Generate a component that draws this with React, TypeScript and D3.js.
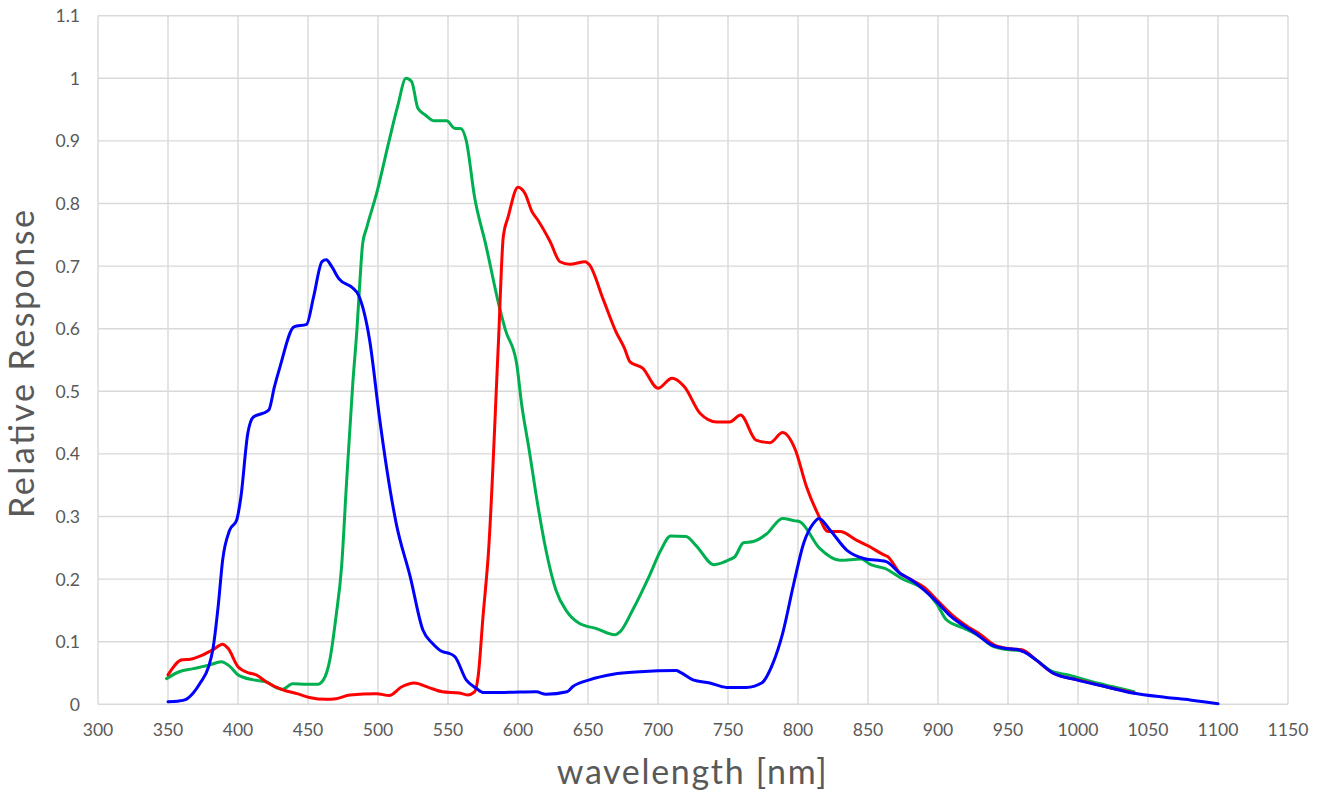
import React from "react";
import * as d3 from "d3";

const xTicks = [300, 350, 400, 450, 500, 550, 600, 650, 700, 750, 800, 850, 900, 950, 1000, 1050, 1100, 1150];
const yTicks = [0, 0.1, 0.2, 0.3, 0.4, 0.5, 0.6, 0.7, 0.8, 0.9, 1, 1.1];
const yTickLabels = ["0", "0.1", "0.2", "0.3", "0.4", "0.5", "0.6", "0.7", "0.8", "0.9", "1", "1.1"];

const blueWl = [350, 357, 363, 368, 373, 379, 382, 386, 389, 394, 399, 402, 407, 411, 418, 422, 426, 430, 440, 449, 454, 460, 463, 467, 472, 482, 486, 494, 501, 506, 513, 523, 532, 539, 546, 550, 555, 563, 570, 575, 590, 613, 620, 635, 639, 651, 668, 687, 713, 716, 725, 737, 749, 763, 774, 782, 789, 797, 804, 811, 815, 823, 835, 847, 863, 873, 880, 899, 908, 927, 939, 949, 956, 961, 970, 982, 999, 1020, 1039, 1063, 1080, 1100];
const blueVal = [0.004, 0.005, 0.008, 0.018, 0.034, 0.06, 0.087, 0.16, 0.23, 0.278, 0.294, 0.33, 0.433, 0.459, 0.465, 0.47, 0.507, 0.539, 0.603, 0.607, 0.651, 0.707, 0.71, 0.699, 0.68, 0.665, 0.654, 0.582, 0.459, 0.38, 0.289, 0.204, 0.119, 0.097, 0.084, 0.082, 0.076, 0.039, 0.026, 0.019, 0.019, 0.02, 0.016, 0.02, 0.028, 0.039, 0.048, 0.052, 0.054, 0.051, 0.039, 0.034, 0.027, 0.027, 0.034, 0.065, 0.113, 0.193, 0.257, 0.289, 0.297, 0.278, 0.246, 0.233, 0.228, 0.209, 0.2, 0.164, 0.143, 0.113, 0.094, 0.089, 0.088, 0.084, 0.071, 0.05, 0.039, 0.028, 0.018, 0.011, 0.007, 0.001];

const redWl = [350, 360, 366, 375, 382, 389, 393, 400, 408, 413, 420, 432, 442, 451, 463, 470, 480, 499, 508, 517, 526, 536, 546, 558, 564, 569, 571.5, 575, 579, 586, 589.5, 593, 600, 605, 610, 614, 623, 630, 637, 648, 651, 661, 670, 676, 680, 689, 700, 710, 719, 730, 742, 751, 759, 770, 780, 789, 798, 806, 814, 821.5, 830, 842, 851, 861, 864, 873, 880, 890, 900, 910, 920, 930, 940, 950, 960, 970, 982, 1000, 1020, 1040];
const redVal = [0.047, 0.071, 0.072, 0.079, 0.087, 0.096, 0.089, 0.06, 0.05, 0.047, 0.036, 0.023, 0.017, 0.011, 0.008, 0.009, 0.015, 0.017, 0.014, 0.028, 0.034, 0.027, 0.02, 0.018, 0.015, 0.02, 0.044, 0.14, 0.246, 0.577, 0.747, 0.779, 0.826, 0.816, 0.787, 0.774, 0.739, 0.707, 0.703, 0.707, 0.702, 0.646, 0.595, 0.569, 0.547, 0.537, 0.505, 0.521, 0.507, 0.465, 0.451, 0.451, 0.462, 0.422, 0.418, 0.434, 0.407, 0.348, 0.305, 0.276, 0.276, 0.262, 0.252, 0.239, 0.236, 0.209, 0.2, 0.187, 0.165, 0.143, 0.126, 0.112, 0.095, 0.089, 0.087, 0.071, 0.05, 0.039, 0.028, 0.018];

const greenWl = [349, 358, 368, 380, 388, 394, 400, 411, 420, 428, 432, 439, 449, 457, 461, 465.6, 470, 474, 477.5, 482, 485, 487, 489, 492, 499, 508, 514, 520, 524, 528.5, 534, 540, 549, 555, 559, 563, 569, 577, 587, 591, 599, 602.5, 608, 614, 620, 627, 635, 644, 656, 669, 673, 682, 694, 702, 709, 720, 727, 740, 751, 755, 761, 768, 777.5, 789, 798, 801, 815.5, 830, 845, 852, 862, 874, 890, 899, 906, 918, 930, 939, 951, 960, 970, 982, 993, 1010, 1025, 1040];
const greenVal = [0.041, 0.052, 0.057, 0.063, 0.068, 0.061, 0.047, 0.039, 0.036, 0.026, 0.024, 0.033, 0.032, 0.032, 0.039, 0.071, 0.14, 0.22, 0.353, 0.513, 0.6, 0.673, 0.735, 0.762, 0.816, 0.901, 0.955, 1.0, 0.995, 0.952, 0.941, 0.932, 0.932, 0.92, 0.92, 0.901, 0.81, 0.734, 0.632, 0.598, 0.545, 0.481, 0.406, 0.32, 0.246, 0.183, 0.148, 0.129, 0.121, 0.111, 0.116, 0.151, 0.206, 0.246, 0.269, 0.268, 0.254, 0.223, 0.231, 0.236, 0.258, 0.26, 0.272, 0.297, 0.293, 0.292, 0.249, 0.23, 0.232, 0.223, 0.217, 0.201, 0.183, 0.161, 0.135, 0.122, 0.108, 0.093, 0.087, 0.086, 0.071, 0.052, 0.047, 0.036, 0.028, 0.02];

const W = 1325;
const H = 800;
const left = 98;
const right = 1288;
const top = 15.7;
const bottom = 704.3;

export default function App() {
  const x = d3.scaleLinear().domain([300, 1150]).range([left, right]);
  const y = d3.scaleLinear().domain([0, 1.1]).range([bottom, top]);
  const line = d3
    .line<[number, number]>()
    .x((d) => x(d[0]))
    .y((d) => y(d[1]))
    .curve(d3.curveMonotoneX);
  const zip = (a: number[], b: number[]) => a.map((v, i) => [v, b[i]] as [number, number]);
  const series = [
    { color: "#00b050", data: zip(greenWl, greenVal) },
    { color: "#ff0000", data: zip(redWl, redVal) },
    { color: "#0000ff", data: zip(blueWl, blueVal) },
  ];
  const font = "Lato, 'Open Sans', sans-serif";
  return (
    <svg width={W} height={H} style={{ position: "absolute", left: 0, top: 0, background: "#fff" }}>
      <rect x={0} y={0} width={W} height={H} fill="#fff" />
      <g>
        {xTicks.map((t) => (
          <line key={"gx" + t} x1={x(t)} x2={x(t)} y1={top} y2={bottom} stroke="#d9d9d9" strokeWidth={1.4} />
        ))}
        {yTicks.map((t) => (
          <line key={"gy" + t} x1={left} x2={right} y1={y(t)} y2={y(t)} stroke="#d9d9d9" strokeWidth={1.4} />
        ))}
      </g>
      <g fontFamily={font} fontSize={17.6} fill="#595959">
        {xTicks.map((t) => (
          <text key={"tx" + t} x={x(t)} y={736} textAnchor="middle">
            {t}
          </text>
        ))}
        {yTicks.map((t, i) => (
          <text key={"ty" + t} x={80} y={y(t)} textAnchor="end" dominantBaseline="central">
            {yTickLabels[i]}
          </text>
        ))}
      </g>
      <g fill="none" strokeWidth={3} strokeLinejoin="round" strokeLinecap="round">
        {series.map((s) => (
          <path key={s.color} d={line(s.data) || ""} stroke={s.color} />
        ))}
      </g>
      <text
        x={691.7}
        y={783.5}
        textAnchor="middle"
        fontFamily={font}
        fontSize={34}
        textLength={270}
        lengthAdjust="spacing"
        fill="#595959"
      >
        wavelength [nm]
      </text>
      <text
        transform={`translate(34, 364) rotate(-90)`}
        textAnchor="middle"
        fontFamily={font}
        fontSize={34}
        textLength={308}
        lengthAdjust="spacing"
        fill="#595959"
      >
        Relative Response
      </text>
    </svg>
  );
}
